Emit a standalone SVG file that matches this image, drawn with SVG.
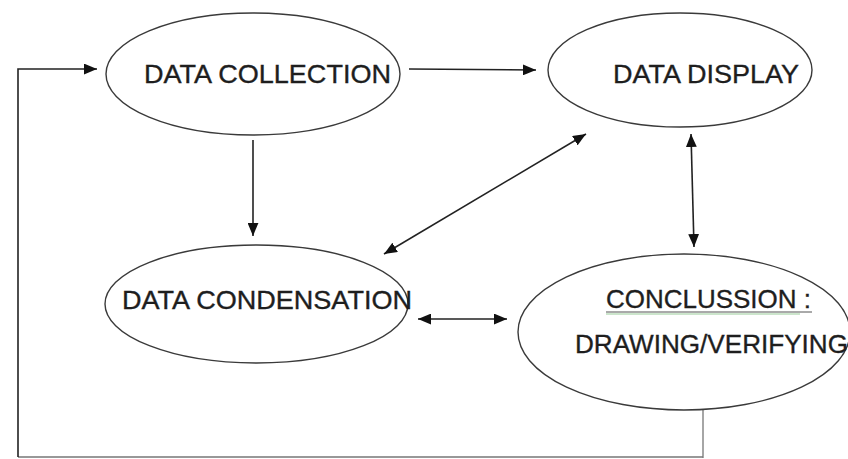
<svg xmlns="http://www.w3.org/2000/svg" width="848" height="459" viewBox="0 0 848 459">
<defs>
<marker id="ah" viewBox="0 0 12 10" refX="12" refY="5" markerWidth="13" markerHeight="11" markerUnits="userSpaceOnUse" orient="auto-start-reverse">
<path d="M0,0 L12,5 L0,10 Z" fill="#111"/>
</marker>
<style>
.node ellipse{fill:#fff;stroke:#3a3a3a;stroke-width:1.4}
.lbl{font-family:"Liberation Sans",Arial,sans-serif;font-size:26px;fill:#1e1e1e;stroke:#1e1e1e;stroke-width:0.35}
.c line,.c path{stroke:#222;stroke-width:1.6;fill:none}
</style>
</defs>
<rect width="848" height="459" fill="#fff"/>
<g class="c" id="connectors">
<line x1="409" y1="69" x2="536" y2="70" marker-end="url(#ah)"/>
<line x1="253" y1="140" x2="253" y2="236" marker-end="url(#ah)"/>
<line x1="384" y1="254" x2="586" y2="134" marker-start="url(#ah)" marker-end="url(#ah)"/>
<line x1="691" y1="134" x2="694" y2="247" marker-start="url(#ah)" marker-end="url(#ah)"/>
<line x1="418" y1="319" x2="507" y2="319" marker-start="url(#ah)" marker-end="url(#ah)"/>
<path d="M703,410 L703,458 M703,457 L18,457" style="stroke:#777;stroke-width:1.3"/>
<path d="M18,457 L18,69 L97,69" marker-end="url(#ah)"/>
</g>
<g class="node" id="data-collection">
<ellipse cx="253" cy="74" rx="147" ry="61"/>
<text class="lbl" x="144" y="83" textLength="247" lengthAdjust="spacingAndGlyphs">DATA COLLECTION</text>
</g>
<g class="node" id="data-display">
<ellipse cx="680" cy="70" rx="132" ry="57"/>
<text class="lbl" x="613" y="83" textLength="186" lengthAdjust="spacingAndGlyphs">DATA DISPLAY</text>
</g>
<g class="node" id="data-condensation">
<ellipse cx="256.5" cy="304" rx="151.5" ry="59"/>
<text class="lbl" x="122" y="309" textLength="290" lengthAdjust="spacingAndGlyphs">DATA CONDENSATION</text>
</g>
<g class="node" id="conclusion">
<ellipse cx="684" cy="332" rx="166" ry="78"/>
<text class="lbl" x="606" y="308" textLength="205" lengthAdjust="spacingAndGlyphs">CONCLUSSION :</text>
<line x1="606" y1="312" x2="812" y2="312" stroke="#555" stroke-width="1"/>
<line x1="606" y1="314" x2="800" y2="314" stroke="#9c9" stroke-width="1"/>
<text class="lbl" x="575" y="353" textLength="273" lengthAdjust="spacingAndGlyphs">DRAWING/VERIFYING</text>
</g>
</svg>
